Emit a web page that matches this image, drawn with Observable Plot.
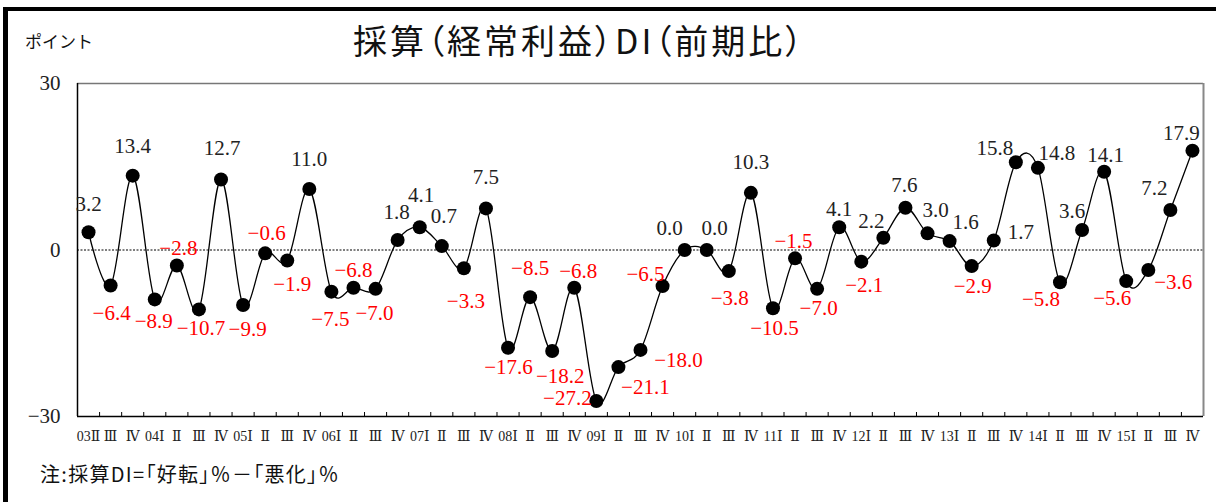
<!DOCTYPE html>
<html>
<head>
<meta charset="utf-8">
<script src="https://cdn.jsdelivr.net/npm/d3@7"></script>
<script src="https://cdn.jsdelivr.net/npm/@observablehq/plot@0.6"></script>
<style>
  html, body { margin: 0; padding: 0; background: #fff; }
  #wrap { position: relative; width: 1216px; height: 502px; overflow: hidden; background: #fff; }
  #chart { position: absolute; left: 0; top: 0; }
  #frame { position: absolute; left: 3px; top: 7px; width: 1230px; height: 520px;
           border-top: 4px solid #000; border-left: 5px solid #000; box-sizing: border-box; pointer-events: none; }
  .jp { position: absolute; white-space: nowrap; line-height: 1; color: #111;
        font-family: "Noto Sans CJK JP", sans-serif; }
  #title { left: 353px; top: 23px; font-size: 34px; letter-spacing: 3px; font-feature-settings: "palt"; }
  #unit { left: 25px; top: 32px; font-size: 17px; }
  #note { left: 40px; top: 464px; font-size: 20px; letter-spacing: 1.3px; font-feature-settings: "palt"; }
</style>
</head>
<body>
<div id="wrap">
  <div id="chart"></div>
  <div id="title" class="jp">採算（経常利益）DI（前期比）</div>
  <div id="unit" class="jp">ポイント</div>
  <div id="note" class="jp">注:採算DI=「好転」％－「悪化」％</div>
  <div id="frame"></div>
</div>
<script>
// Quarter labels, 2003 Q2 through 2015 Q4
const quarters = [
  "03Ⅱ", "Ⅲ", "Ⅳ",
  "04Ⅰ", "Ⅱ", "Ⅲ", "Ⅳ",
  "05Ⅰ", "Ⅱ", "Ⅲ", "Ⅳ",
  "06Ⅰ", "Ⅱ", "Ⅲ", "Ⅳ",
  "07Ⅰ", "Ⅱ", "Ⅲ", "Ⅳ",
  "08Ⅰ", "Ⅱ", "Ⅲ", "Ⅳ",
  "09Ⅰ", "Ⅱ", "Ⅲ", "Ⅳ",
  "10Ⅰ", "Ⅱ", "Ⅲ", "Ⅳ",
  "11Ⅰ", "Ⅱ", "Ⅲ", "Ⅳ",
  "12Ⅰ", "Ⅱ", "Ⅲ", "Ⅳ",
  "13Ⅰ", "Ⅱ", "Ⅲ", "Ⅳ",
  "14Ⅰ", "Ⅱ", "Ⅲ", "Ⅳ",
  "15Ⅰ", "Ⅱ", "Ⅲ", "Ⅳ"
];

// Profit DI (recurring profit, vs previous quarter), points
const diValues = [
  3.2, -6.4, 13.4,
  -8.9, -2.8, -10.7, 12.7,
  -9.9, -0.6, -1.9, 11.0,
  -7.5, -6.8, -7.0, 1.8,
  4.1, 0.7, -3.3, 7.5,
  -17.6, -8.5, -18.2, -6.8,
  -27.2, -21.1, -18.0, -6.5,
  0.0, 0.0, -3.8, 10.3,
  -10.5, -1.5, -7.0, 4.1,
  -2.1, 2.2, 7.6, 3.0,
  1.6, -2.9, 1.7, 15.8,
  14.8, -5.8, 3.6, 14.1,
  -5.6, -3.6, 7.2, 17.9
];

const yTicks = [-30, 0, 30];

// Pixel nudges [dx, dy] for each value label so they clear the line
const labelNudge = [
  [0, -28], [1, 28], [0, -29],
  [-1, 22], [1.5, -17], [2, 19], [1, -31],
  [4.5, 24], [1.5, -20], [5, 24], [0, -30],
  [-1, 28], [0, -17], [-1, 24], [-1, -28],
  [1.5, -32], [2, -30], [2, 33], [0, -31],
  [0.5, 20], [0, -29], [8, 25], [4, -16],
  [-29, -3], [27, 20], [38, 10], [-17, -12],
  [-15, -22], [8, -22], [1, 27], [0, -31],
  [1.5, 20], [-1.5, -17], [1.5, 19], [0, -18],
  [3, 24], [-12, -17], [-1, -23], [8, -23],
  [16, -19], [1, 20], [27, -8], [-21, -14],
  [19, -15], [-19, 17], [-10, -19], [1.5, -16],
  [-14, 17], [25, 12], [-16, -22], [-11, -17]
];

const serif = "'Liberation Serif', 'DejaVu Serif', 'Noto Sans CJK JP', serif";
const minus = (s) => s.replace("-", "\u2212");

const data = diValues.map((v, i) => ({i, v, q: quarters[i]}));
const n = data.length;
const boundaries = d3.range(1, n).map((k) => k - 0.5);

const labelMarks = data.map((d, k) =>
  Plot.text([d], {
    x: "i",
    y: "v",
    text: (p) => minus(p.v.toFixed(1)),
    dx: labelNudge[k][0],
    dy: labelNudge[k][1],
    fill: d.v < 0 ? "#ff0000" : "#222",
    fontSize: 21,
    fontFamily: serif,
    textAnchor: "middle",
    lineAnchor: "middle"
  })
);

const chart = Plot.plot({
  width: 1216,
  height: 502,
  marginLeft: 77,
  marginRight: 13,
  marginTop: 83,
  marginBottom: 86,
  style: {background: "transparent", fontFamily: serif, color: "#222"},
  x: {domain: [-0.5, n - 0.5]},
  y: {domain: [-30, 30]},
  marks: [
    Plot.ruleY([0], {stroke: "#000", strokeWidth: 1, strokeDasharray: "2,1.5"}),
    Plot.ruleY([30], {stroke: "#777", strokeWidth: 1.5}),
    Plot.ruleX([n - 0.5], {stroke: "#888", strokeWidth: 2}),
    Plot.ruleX(boundaries, {stroke: "#000", strokeWidth: 1, insetTop: 329}),
    Plot.ruleX([-0.5], {stroke: "#000", strokeWidth: 1.5}),
    Plot.ruleY([-30], {stroke: "#000", strokeWidth: 1.5}),
    Plot.axisY({
      ticks: yTicks,
      tickSize: 0,
      tickPadding: 17,
      tickFormat: (d) => minus(String(d)),
      fontSize: 21,
      fontFamily: serif,
      label: null
    }),
    Plot.axisX({
      ticks: d3.range(n),
      tickSize: 0,
      tickPadding: 15,
      tickFormat: (i) => quarters[i],
      fontSize: 14,
      fontFamily: serif,
      label: null
    }),
    Plot.line(data, {x: "i", y: "v", curve: "cardinal", stroke: "#000", strokeWidth: 1.3}),
    Plot.dot(data, {x: "i", y: "v", r: 7, fill: "#000"}),
    ...labelMarks
  ]
});

document.getElementById("chart").appendChild(chart);
</script>
</body>
</html>
